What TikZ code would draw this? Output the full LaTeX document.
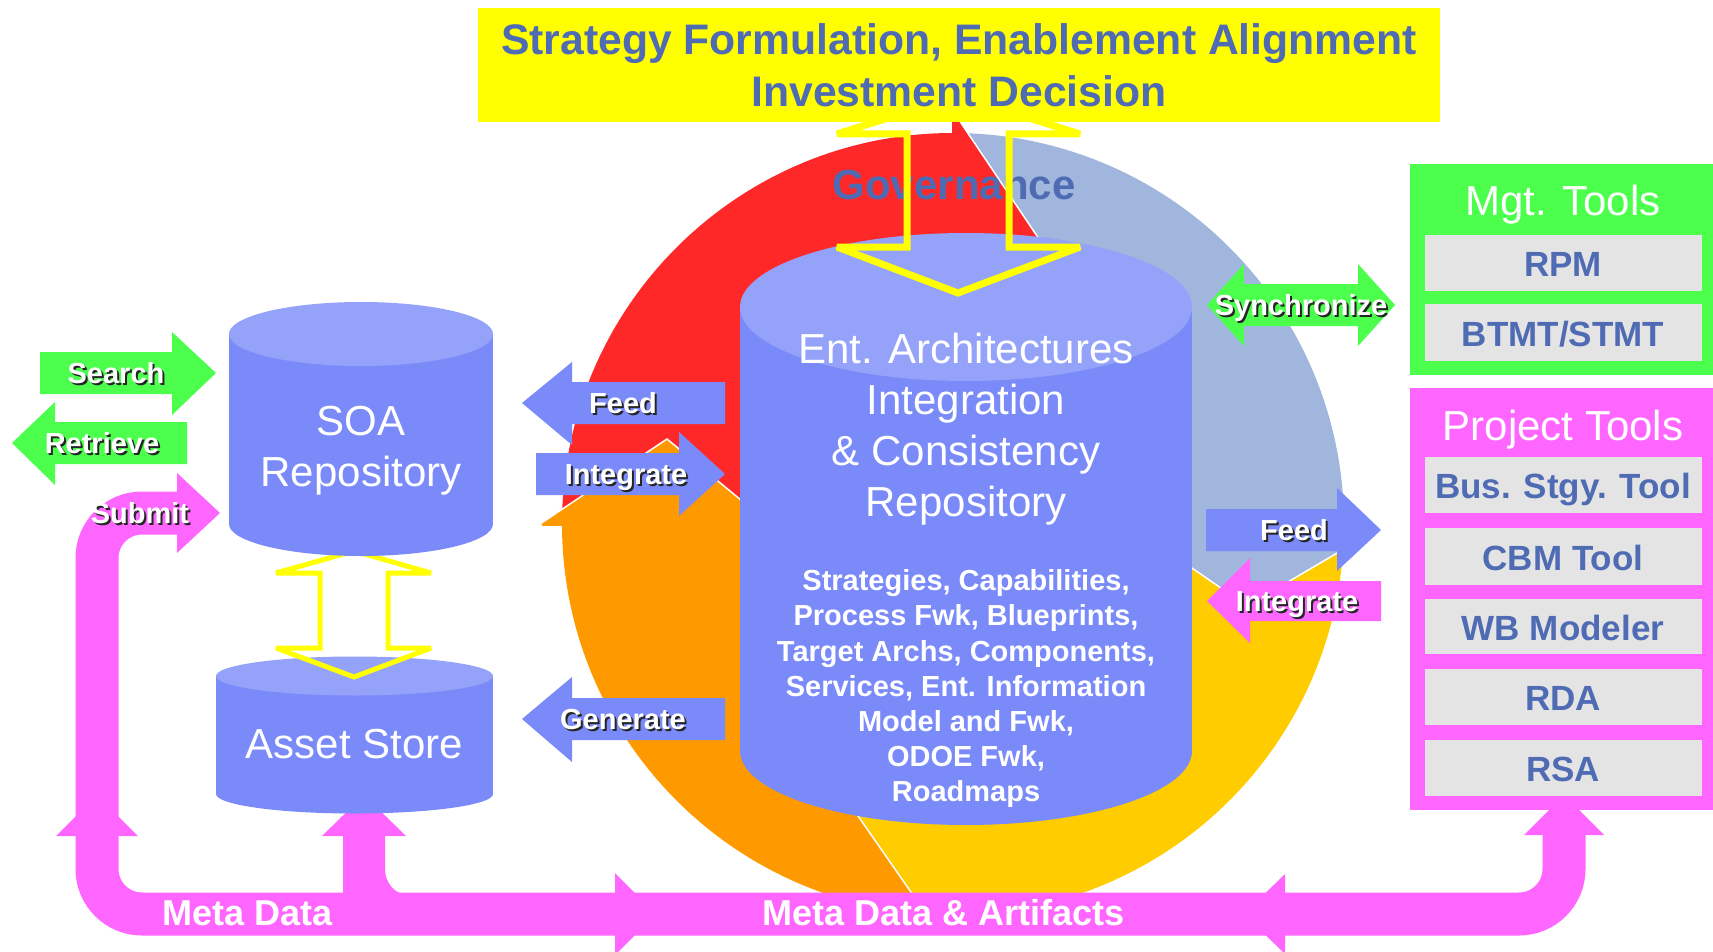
\documentclass[tikz,border=0pt]{standalone}
\usepackage{fontspec}
\setmainfont{Liberation Sans}
\definecolor{pinkc}{HTML}{FF66FF}
\definecolor{greenc}{HTML}{4CFF4C}
\definecolor{cylb}{HTML}{7A8AF9}
\definecolor{cylt}{HTML}{95A2FA}
\definecolor{segblue}{HTML}{A0B6DD}
\definecolor{segred}{HTML}{FF2828}
\definecolor{segor}{HTML}{FF9900}
\definecolor{segyel}{HTML}{FFCC00}
\definecolor{txtblue}{HTML}{4E6BB4}
\definecolor{grayc}{HTML}{E4E4E4}
\definecolor{bannery}{HTML}{FFFF00}
\tikzset{
  big/.style={font=\fontsize{42}{50}\selectfont, text=white, inner sep=0pt, anchor=base},
  bigb/.style={font=\fontsize{42}{50}\selectfont\bfseries, text=txtblue, inner sep=0pt, anchor=base},
  banb/.style={font=\fontsize{42.7}{50}\selectfont\bfseries, text=txtblue, inner sep=0pt, anchor=base},
  cylbold/.style={font=\fontsize{29}{35}\selectfont\bfseries, text=white, inner sep=0pt, anchor=base},
  lbl/.style={font=\fontsize{29}{35}\selectfont\bfseries, text=white, inner sep=0pt, anchor=base},
  tool/.style={font=\fontsize{35}{40}\selectfont\bfseries, text=txtblue, inner sep=0pt, anchor=base},
  meta/.style={font=\fontsize{36}{40}\selectfont\bfseries, text=white, inner sep=0pt, anchor=base},
  headline/.style={white, line width=1.5pt},
  seamfix/.style={line width=3pt},
  hollow/.style={bannery, line join=miter, miter limit=4},
}
\newcommand{\arwlbl}[4]{%
  \node[lbl, text=black!85] (#1s) at (#2+2,#3+2) {#4};
  \node[lbl] (#1) at (#2,#3) {#4};}
\begin{document}
\begin{tikzpicture}[x=1pt,y=-1pt]
\useasboundingbox (0,0) rectangle (1713,952);
% ---- ring bodies ----
\coordinate (C) at (953,524);
\fill[segblue] (C) -- ++(270:391) arc[start angle=270,end angle=361.7,radius=391] -- cycle;
\fill[segyel] (C) -- ++(1.7:391) arc[start angle=1.7,end angle=91.8,radius=391] -- cycle;
\fill[segor] (C) -- ++(91.8:391) arc[start angle=91.8,end angle=180,radius=391] -- cycle;
\fill[segred] (C) -- ++(180:391) arc[start angle=180,end angle=270,radius=391] -- cycle;
% ---- ring heads ----
\fill[segred] (953,111) -- (1039,239) -- (953,341) -- cycle;
\draw[segred, seamfix] (953,113) -- (953,341);
\draw[headline] (953,111) -- (1039,239) -- (953,341);
\fill[segor] (540,524) -- (667,439) -- (770,524) -- cycle;
\draw[segor, seamfix] (542,524) -- (770,524);
\draw[headline] (540,524) -- (667,439) -- (770,524);
\fill[segyel] (940.1,934) -- (849,803) -- (947.3,707) -- cycle;
\draw[segyel, seamfix] (940.1,932) -- (947.3,707);
\draw[headline] (940.1,934) -- (849,803) -- (947.3,707);
\fill[segblue] (1365.8,536.2) -- (1247,606) -- (1135.9,529.4) -- cycle;
\draw[segblue, seamfix] (1363.8,536.2) -- (1135.9,529.4);
\draw[headline] (1365.8,536.2) -- (1247,606) -- (1135.9,529.4);
% ---- governance ----
\node[bigb] (gov) at (954,200) {Governance};
% ---- central cylinder ----
\fill[cylb] (740,307) rectangle (1192,751);
\fill[cylb] (966,751) ellipse[x radius=226,y radius=74];
\fill[cylt] (966,307) ellipse[x radius=226,y radius=74];
\node[big] (ea1) at (966,363) {Ent. Architectures};
\node[big] (ea2) at (966,414) {Integration};
\node[big] (ea3) at (966,465) {\& Consistency};
\node[big] (ea4) at (966,516) {Repository};
\node[cylbold] (eb1) at (966,590.5) {Strategies, Capabilities,};
\node[cylbold] (eb2) at (966,625.7) {Process Fwk, Blueprints,};
\node[cylbold] (eb3) at (966,661) {Target Archs, Components,};
\node[cylbold] (eb4) at (966,696.2) {Services, Ent. Information};
\node[cylbold] (eb5) at (966,731.4) {Model and Fwk,};
\node[cylbold] (eb6) at (966,766.6) {ODOE Fwk,};
\node[cylbold] (eb7) at (966,801.8) {Roadmaps};
% ---- governance hollow arrow ----
\draw[hollow, line width=7pt] (958,96) -- (1080,134) -- (1009,134) -- (1009,247) -- (1080,247)
  -- (958,293) -- (837,247) -- (907,247) -- (907,134) -- (837,134) -- cycle;
% ---- banner ----
\fill[bannery] (478,8) rectangle (1440,122);
\node[banb] (ban1) at (959,55) {Strategy Formulation, Enablement Alignment};
\node[banb] (ban2) at (959,107) {Investment Decision};
% ---- block arrows around central cylinder ----
\fill[cylb] (725,382) -- (572,382) -- (572,362) -- (522,403) -- (572,445) -- (572,424) -- (725,424) -- cycle;
\fill[cylb] (536,453) -- (679,453) -- (679,432) -- (725,474) -- (679,516) -- (679,495) -- (536,495) -- cycle;
\fill[cylb] (725,698) -- (572,698) -- (572,677) -- (522,719) -- (572,762) -- (572,740) -- (725,740) -- cycle;
\fill[greenc] (1244,284) -- (1244,264) -- (1207,305) -- (1244,346) -- (1244,326) -- (1358,326)
  -- (1358,346) -- (1395,305) -- (1358,264) -- (1358,284) -- cycle;
\fill[cylb] (1206,509) -- (1337,509) -- (1337,488) -- (1381,530) -- (1337,571) -- (1337,551) -- (1206,551) -- cycle;
\fill[pinkc] (1381,581) -- (1250,581) -- (1250,558) -- (1207,601) -- (1250,643) -- (1250,621) -- (1381,621) -- cycle;
\arwlbl{feedl}{623}{413.5}{Feed}
\arwlbl{integl}{626}{484.5}{Integrate}
\arwlbl{gen}{623}{729.5}{Generate}
\arwlbl{sync}{1301}{315.5}{Synchronize}
\arwlbl{feedr}{1294}{540.5}{Feed}
\arwlbl{integr}{1297}{611.5}{Integrate}
% ---- left green arrows ----
\fill[greenc] (40,352) -- (172,352) -- (172,332) -- (216,373) -- (172,415) -- (172,394) -- (40,394) -- cycle;
\fill[greenc] (187,422) -- (55,422) -- (55,402) -- (12,443) -- (55,485) -- (55,464) -- (187,464) -- cycle;
\arwlbl{search}{116}{383.5}{Search}
\arwlbl{retr}{102}{453.5}{Retrieve}
% ---- pink loop ----
\draw[pinkc, line width=43pt, rounded corners=45pt] (177,513) -- (97,513) -- (97,914) -- (1564,914) -- (1564,835);
\fill[pinkc] (177,473) -- (220,513) -- (177,553) -- cycle;
\fill[pinkc] (56,836) -- (97,795) -- (138,836) -- cycle;
\fill[pinkc] (343,914) -- (343,836) -- (322,836) -- (364,795) -- (406,836) -- (385,836) -- (385,914) -- cycle;
\fill[pinkc] (385,870) -- (385,894) -- (405,894) .. controls (394,894) and (385,881) .. (385,870) -- cycle;
\fill[pinkc] (615,873) -- (656,914) -- (615,955) -- cycle;
\fill[pinkc] (1285,874) -- (1244,914) -- (1285,954) -- cycle;
\fill[pinkc] (1524,835) -- (1564,795) -- (1604,835) -- cycle;
\arwlbl{submit}{140}{523.5}{Submit}
\node[meta] (md) at (248,925) {Meta Data};
\node[meta] (mda) at (944,925) {Meta Data \& Artifacts};
% ---- asset store ----
\fill[cylb] (216,676) rectangle (493,794);
\fill[cylb] (354.5,794) ellipse[x radius=138.5,y radius=19.5];
\fill[cylt] (354.5,676) ellipse[x radius=138.5,y radius=19.5];
\node[big] (asset) at (354.5,758) {Asset Store};
% ---- hollow arrow SOA <-> asset ----
\draw[hollow, line width=5pt] (354,551) -- (431,573) -- (388,573) -- (388,648) -- (431,648)
  -- (354,677) -- (276,648) -- (320,648) -- (320,573) -- (276,573) -- cycle;
% ---- SOA repository ----
\fill[cylb] (229,334) rectangle (493,524);
\fill[cylb] (361,524) ellipse[x radius=132,y radius=32];
\fill[cylt] (361,334) ellipse[x radius=132,y radius=32];
\node[big] (soa1) at (361,435) {SOA};
\node[big] (soa2) at (361,486) {Repository};
% ---- tool boxes ----
\fill[greenc] (1410,164) rectangle (1713,375);
\node[big] (mgt) at (1563,215) {Mgt. Tools};
\fill[grayc] (1425,235) rectangle (1702,291);
\node[tool] (rpm) at (1563,276) {RPM};
\fill[grayc] (1425,304) rectangle (1702,361);
\node[tool] (btmt) at (1563,346) {BTMT/STMT};
\fill[pinkc] (1410,388) rectangle (1713,810);
\node[big] (proj) at (1563,440) {Project Tools};
\fill[grayc] (1425,457) rectangle (1702,513);
\node[tool] (bus) at (1563,498) {Bus. Stgy. Tool};
\fill[grayc] (1425,528) rectangle (1702,585);
\node[tool] (cbm) at (1563,570) {CBM Tool};
\fill[grayc] (1425,599) rectangle (1702,654);
\node[tool] (wb) at (1563,640) {WB Modeler};
\fill[grayc] (1425,669) rectangle (1702,725);
\node[tool] (rda) at (1563,710) {RDA};
\fill[grayc] (1425,740) rectangle (1702,796);
\node[tool] (rsa) at (1563,781) {RSA};
\end{tikzpicture}
\end{document}
